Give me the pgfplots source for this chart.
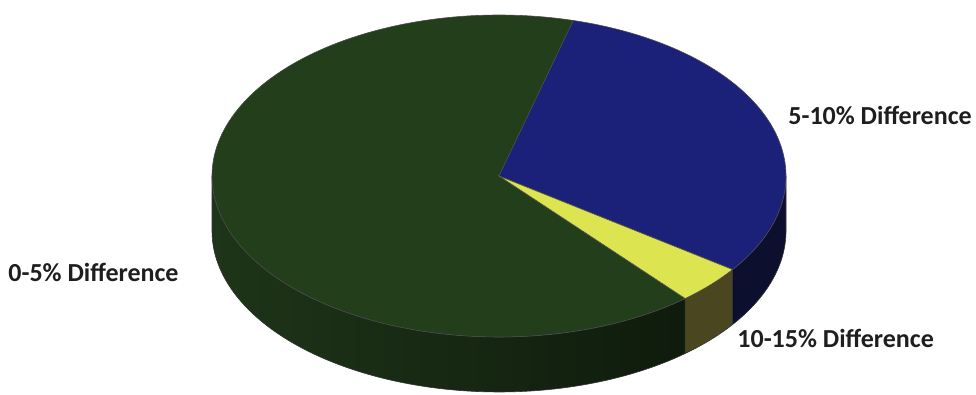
\documentclass[border=0pt]{standalone}
\usepackage{pgfplots}
\pgfplotsset{compat=1.18}
\usepackage{pgfplotstable}
\usepackage{fontspec}
\setmainfont{Carlito}

\definecolor{gtop}{HTML}{223E1A}
\definecolor{btop}{HTML}{1B2178}
\definecolor{ytop}{HTML}{DCE450}
\definecolor{gsideL}{HTML}{1E3519}
\definecolor{gsideR}{HTML}{0F1B0C}
\definecolor{bside}{HTML}{0D0F2E}
\definecolor{yside}{HTML}{4A4720}
\definecolor{txt}{HTML}{1E1E1E}

\pgfplotstableread{
label value
0-5 65.4
5-10 30.7
10-15 3.9
}\piedata
\pgfplotstablegetelem{0}{value}\of\piedata \let\vA\pgfplotsretval
\pgfplotstablegetelem{1}{value}\of\piedata \let\vB\pgfplotsretval
\pgfplotstablegetelem{2}{value}\of\piedata \let\vC\pgfplotsretval

% geometry in pixel units
\def\cx{499}
\def\cy{-176}
\def\A{287}
\def\B{161}
\def\h{55}
\def\st{75}
\pgfmathsetmacro{\bA}{\st-3.6*\vB}
\pgfmathsetmacro{\yA}{\bA-3.6*\vC}
\pgfmathsetmacro{\gE}{\yA+360}

\begin{document}
\begin{tikzpicture}
\begin{axis}[
  width=488pt, height=197.5pt, scale only axis,
  xmin=0, xmax=976, ymin=-395, ymax=0,
  hide axis, clip=false,
  every axis plot/.append style={no markers},
]
\path (axis cs:0,0) rectangle (axis cs:976,-395);
% ---- side faces ----
\addplot[left color=gsideL, right color=gsideR, draw=black!80, line width=0.3pt,
  domain=180:\gE, samples=90, variable=\t]
  ({\cx+\A*cos(\t)},{\cy+\B*sin(\t)})
  -- plot[domain=\gE:180, samples=90, variable=\t] ({\cx+\A*cos(\t)},{\cy-\h+\B*sin(\t)}) -- cycle;
\addplot[fill=yside, draw=black!80, line width=0.3pt,
  domain=\yA:\bA, samples=20, variable=\t]
  ({\cx+\A*cos(\t)},{\cy+\B*sin(\t)})
  -- plot[domain=\bA:\yA, samples=20, variable=\t] ({\cx+\A*cos(\t)},{\cy-\h+\B*sin(\t)}) -- cycle;
\addplot[fill=bside, draw=black!80, line width=0.3pt,
  domain=\bA:0, samples=40, variable=\t]
  ({\cx+\A*cos(\t)},{\cy+\B*sin(\t)})
  -- plot[domain=0:\bA, samples=40, variable=\t] ({\cx+\A*cos(\t)},{\cy-\h+\B*sin(\t)}) -- cycle;
% ---- top faces ----
\addplot[fill=gtop, draw=black!70, line width=0.3pt,
  domain=\st:\gE, samples=150, variable=\t]
  ({\cx+\A*cos(\t)},{\cy+\B*sin(\t)}) -- (axis cs:\cx,\cy) -- cycle;
\addplot[fill=btop, draw=black!70, line width=0.3pt,
  domain=\bA:\st, samples=80, variable=\t]
  ({\cx+\A*cos(\t)},{\cy+\B*sin(\t)}) -- (axis cs:\cx,\cy) -- cycle;
\addplot[fill=ytop, draw=black!70, line width=0.3pt,
  domain=\yA:\bA, samples=20, variable=\t]
  ({\cx+\A*cos(\t)},{\cy+\B*sin(\t)}) -- (axis cs:\cx,\cy) -- cycle;
% ---- labels ----
\node[anchor=west, inner sep=0pt, text=txt, font=\fontsize{13}{15}\selectfont\bfseries] at (axis cs:8,-272) {0-5\% Difference};
\node[anchor=west, inner sep=0pt, text=txt, font=\fontsize{13}{15}\selectfont\bfseries] at (axis cs:788,-115) {5-10\% Difference};
\node[anchor=west, inner sep=0pt, text=txt, font=\fontsize{13}{15}\selectfont\bfseries] at (axis cs:737,-338) {10-15\% Difference};
\end{axis}
\end{tikzpicture}
\end{document}
